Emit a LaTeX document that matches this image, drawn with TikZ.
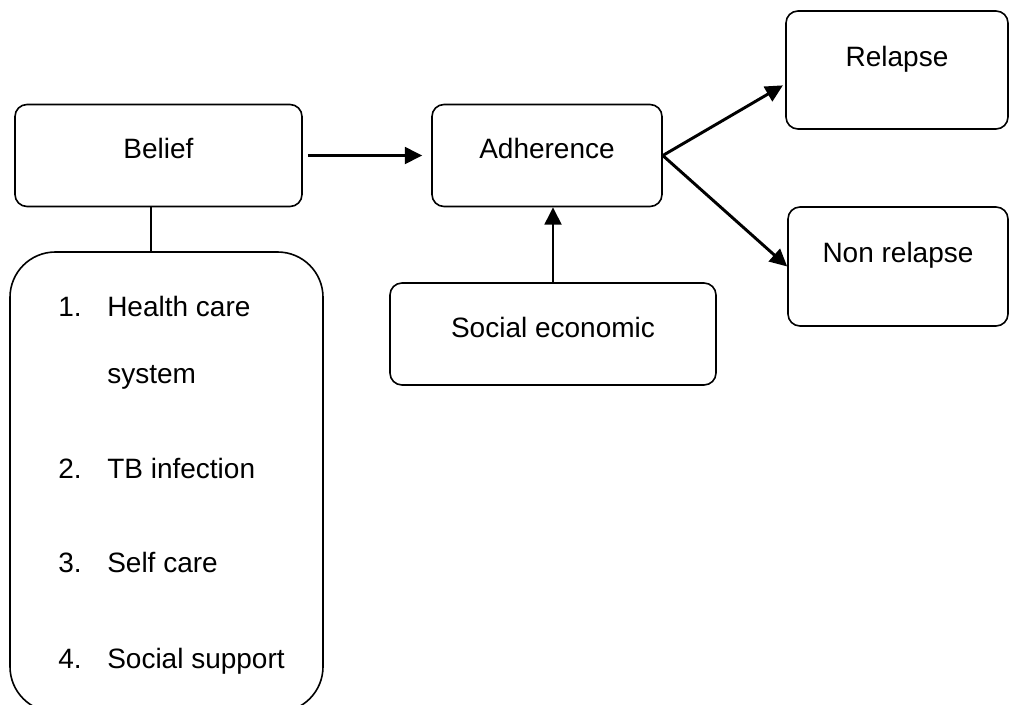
\documentclass[tikz,border=0pt]{standalone}
\usepackage{fontspec}
\setmainfont{Liberation Sans}
\usetikzlibrary{arrows.meta}

\tikzset{
  box/.style={draw,line width=1.2pt,rounded corners=9pt,text height=15pt,text depth=10.5pt,font=\fontsize{21}{25}\selectfont},
  outcome/.style={box,text depth=21pt},
  item/.style={inner sep=0,anchor=base west,font=\fontsize{21}{25}\selectfont},
  arr/.style={line width=2.2pt,-{Triangle[length=13pt,width=12.5pt]}}
}

\begin{document}
\begin{tikzpicture}[x=0.75pt,y=-0.75pt]
\useasboundingbox (0,0) rectangle (1009,704);

\node[box,minimum width=215.25pt,minimum height=76.5pt] (belief) at (158.5,155.5) {Belief};
\node[box,minimum width=172.5pt,minimum height=76.5pt] (adherence) at (547,155.5) {Adherence};
\node[outcome,minimum width=166.5pt,minimum height=88.5pt] (relapse) at (897,70) {Relapse};
\node[outcome,minimum width=165pt,minimum height=89.25pt] (nonrelapse) at (898,266.5) {Non relapse};
\node[box,minimum width=244.5pt,minimum height=76.5pt] (socio) at (553,334) {Social economic};
\node[draw,line width=1.2pt,rounded corners=34pt,minimum width=234.75pt,minimum height=345pt] (factors) at (166.5,482) {};

% list of factors
\node[item] (n1) at (58,316) {1.};
\node[item] (t1) at (107,316) {Health care};
\node[item] (t1b) at (107,383) {system};
\node[item] (n2) at (58,478) {2.};
\node[item] (t2) at (107,478) {TB infection};
\node[item] (n3) at (58,572) {3.};
\node[item] (t3) at (107,572) {Self care};
\node[item] (n4) at (58,668) {4.};
\node[item] (t4) at (107,668) {Social support};

\draw[line width=1.2pt] ([xshift=-5.6pt]belief.south) -- ([xshift=-5.6pt]belief.south |- factors.north);
\draw[arr,shorten <=3.75pt,shorten >=6.75pt] (belief) -- (adherence);
\draw[arr,shorten >=2pt] (adherence.east) -- ([yshift=-10.5pt]relapse.west);
\draw[arr] (adherence.east) -- (nonrelapse.west);
\draw[arr] (socio.north) -- (socio.north |- adherence.south);
\end{tikzpicture}
\end{document}
